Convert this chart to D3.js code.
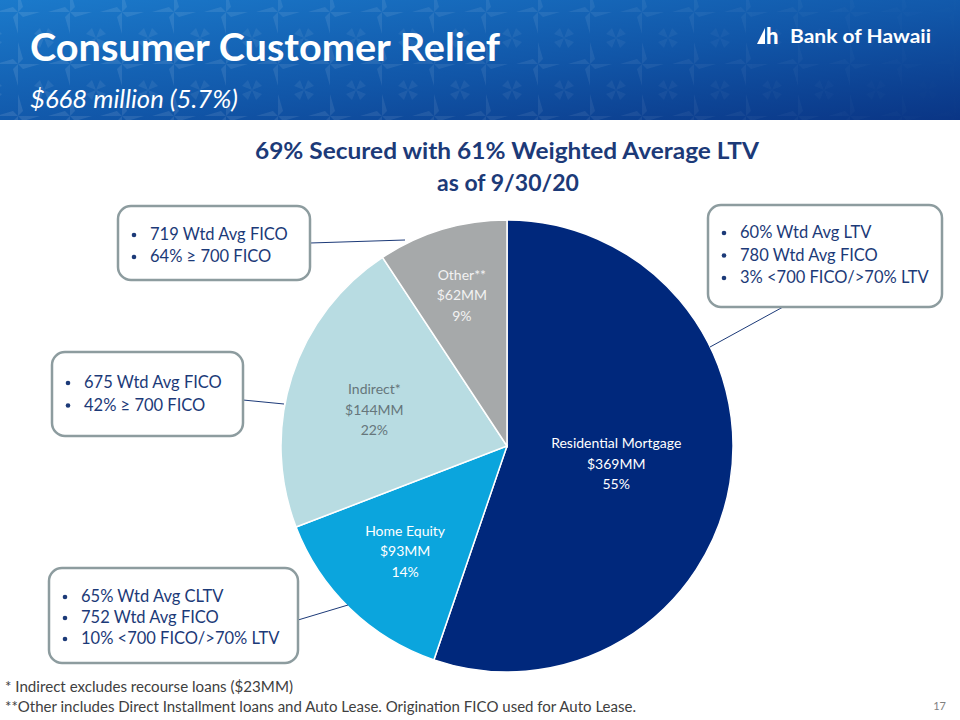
<!DOCTYPE html>
<html><head><meta charset="utf-8">
<script src="https://cdn.jsdelivr.net/npm/d3@7"></script>
<style>
html,body{margin:0;padding:0;background:#fff;}
svg{display:block;}
text{font-family:Lato,"Open Sans",sans-serif;}
</style></head>
<body>
<script>
// ---- data ----
const categories = ["Residential Mortgage","Home Equity","Indirect*","Other**"];
const amounts = [369, 93, 144, 62];           // $MM
const amountLabels = ["$369MM","$93MM","$144MM","$62MM"];
const pctLabels = ["55%","14%","22%","9%"];
const sliceColors = ["#00287c","#0ba5dd","#b8dce2","#a6a9aa"];
const labelColors = ["#ffffff","#ffffff","#66767b","#f2f2f2"];

const pageTitle = "Consumer Customer Relief";
const pageSubtitle = "$668 million (5.7%)";
const chartTitle = ["69% Secured with 61% Weighted Average LTV","as of 9/30/20"];

const calloutOther = ["719 Wtd Avg FICO","64% \u2265 700 FICO"];
const calloutResidential = ["60% Wtd Avg LTV","780 Wtd Avg FICO","3% <700 FICO/>70% LTV"];
const calloutIndirect = ["675 Wtd Avg FICO","42% \u2265 700 FICO"];
const calloutHomeEquity = ["65% Wtd Avg CLTV","752 Wtd Avg FICO","10% <700 FICO/>70% LTV"];

const footnotes = ["* Indirect excludes recourse loans ($23MM)",
  "**Other includes Direct Installment loans and Auto Lease.  Origination FICO used for Auto Lease."];
const pageNumber = "17";

// ---- drawing ----
const W = 960, H = 720;
const svg = d3.select("body").append("svg").attr("width", W).attr("height", H);
const defs = svg.append("defs");

// header gradient
const grad = defs.append("linearGradient").attr("id","hdr").attr("x1","0").attr("y1","0").attr("x2","1").attr("y2","1");
grad.append("stop").attr("offset","0").attr("stop-color","#1b7acb");
grad.append("stop").attr("offset","0.55").attr("stop-color","#1156a8");
grad.append("stop").attr("offset","1").attr("stop-color","#0a3585");

// star pattern
const pat = defs.append("pattern").attr("id","stars").attr("patternUnits","userSpaceOnUse")
  .attr("width",52).attr("height",52).attr("x",-8).attr("y",-14);
const starPath = "M26,26 L26,4 L31,21 Z M26,26 L48,26 L31,31 Z M26,26 L26,48 L21,31 Z M26,26 L4,26 L21,21 Z";
pat.append("path").attr("d", starPath).attr("fill","#ffffff").attr("opacity",0.1);
pat.append("path").attr("d", "M0,0 L10,4 L4,10 Z M52,0 L42,4 L48,10 Z M0,52 L10,48 L4,42 Z M52,52 L42,48 L48,42 Z")
  .attr("fill","#ffffff").attr("opacity",0.08);

svg.append("rect").attr("x",0).attr("y",0).attr("width",W).attr("height",120).attr("fill","url(#hdr)");
const fade = defs.append("linearGradient").attr("id","fade").attr("x1","0").attr("x2","1");
fade.append("stop").attr("offset","0").attr("stop-color","#fff").attr("stop-opacity",1);
fade.append("stop").attr("offset","0.6").attr("stop-color","#fff").attr("stop-opacity",0.7);
fade.append("stop").attr("offset","1").attr("stop-color","#fff").attr("stop-opacity",0.05);
const mask = defs.append("mask").attr("id","fmask");
mask.append("rect").attr("x",0).attr("y",0).attr("width",W).attr("height",120).attr("fill","url(#fade)");
svg.append("rect").attr("x",0).attr("y",0).attr("width",W).attr("height",120).attr("fill","url(#stars)").attr("mask","url(#fmask)");

svg.append("text").attr("x",30).attr("y",61).attr("fill","#fff")
  .attr("font-size",39).attr("font-weight",700).attr("textLength",470).attr("lengthAdjust","spacingAndGlyphs")
  .text(pageTitle);
svg.append("text").attr("x",30).attr("y",108).attr("fill","#fff")
  .attr("font-size",25).attr("font-style","italic").attr("textLength",208).attr("lengthAdjust","spacingAndGlyphs")
  .text(pageSubtitle);

// logo
const logo = svg.append("g");
logo.append("path").attr("d","M757,44 L765,28 L765,44 Z").attr("fill","#fff");
logo.append("text").attr("x",766).attr("y",44).attr("fill","#fff").attr("font-size",22).attr("font-weight",900).text("h");
logo.append("text").attr("x",790).attr("y",43).attr("fill","#fff").attr("font-size",19).attr("font-weight",700)
  .attr("textLength",141).attr("lengthAdjust","spacingAndGlyphs").text("Bank of Hawaii");

// chart title
const ct = svg.append("g");
ct.append("text").attr("x",507).attr("y",159).attr("text-anchor","middle")
  .attr("fill","#1c3a78").attr("font-size",23).attr("font-weight",700)
  .attr("textLength",504).attr("lengthAdjust","spacingAndGlyphs").text(chartTitle[0]);
ct.append("text").attr("x",508).attr("y",191).attr("text-anchor","middle")
  .attr("fill","#1c3a78").attr("font-size",23).attr("font-weight",700).text(chartTitle[1]);

// pie
const cx = 507, cy = 446, R = 226;
const pie = d3.pie().sort(null).value(d=>d)(amounts);
const arc = d3.arc().innerRadius(0).outerRadius(R);
const g = svg.append("g").attr("transform",`translate(${cx},${cy})`);
g.selectAll("path").data(pie).join("path")
  .attr("d",arc).attr("fill",(d,i)=>sliceColors[i]).attr("stroke","#fff").attr("stroke-width",1.5);

// slice labels
const labelArcs = [
  d3.arc().innerRadius(0).outerRadius(R*0.98),
  d3.arc().innerRadius(0).outerRadius(R*1.30),
  d3.arc().innerRadius(0).outerRadius(R*1.27),
  d3.arc().innerRadius(0).outerRadius(R*1.39)
];
const labelNudge = [[0,0],[0,0],[4,8],[0,0]];
pie.forEach((d,i)=>{
  const c = labelArcs[i].centroid(d);
  const x = c[0] + labelNudge[i][0], y = c[1] + labelNudge[i][1];
  const t = g.append("text").attr("text-anchor","middle").attr("fill",labelColors[i]).attr("font-size",14);
  [categories[i], amountLabels[i], pctLabels[i]].forEach((s,k)=>{
    t.append("tspan").attr("x",x).attr("y",y-16+k*20.5).text(s);
  });
});

// callouts
function callout(x,y,w,h,lines,lineY,gap,line){
  svg.append("line").attr("x1",line[0]).attr("y1",line[1]).attr("x2",line[2]).attr("y2",line[3])
    .attr("stroke","#1c3a78").attr("stroke-width",1);
  svg.append("rect").attr("x",x).attr("y",y).attr("width",w).attr("height",h).attr("rx",13)
    .attr("fill","#fff").attr("stroke","#8d9c9f").attr("stroke-width",2.5);
  lines.forEach((s,i)=>{
    svg.append("circle").attr("cx",x+16).attr("cy",lineY+i*gap-5).attr("r",2.3).attr("fill","#1c3a78");
    svg.append("text").attr("x",x+32).attr("y",lineY+i*gap).attr("fill","#1c3a78").attr("font-size",16.5).text(s);
  });
}
callout(118,206,192,74,calloutOther,240,22,[310,243,405,240]);
callout(708,205,234,102,calloutResidential,238,22.5,[783,307,710,347]);
callout(52,352,191,84,calloutIndirect,388,22.5,[243,400,284,404]);
callout(49,568,249,95,calloutHomeEquity,602,21,[298,620,348,605]);

// footnotes
const fnLen = [288, 631];
svg.append("g").selectAll("text").data(footnotes).join("text")
  .attr("x",5).attr("y",(d,i)=>692+i*20).attr("fill","#404040").attr("font-size",14.5)
  .attr("textLength",(d,i)=>fnLen[i]).attr("lengthAdjust","spacingAndGlyphs").text(d=>d);
svg.append("text").attr("x",946).attr("y",710).attr("text-anchor","end").attr("fill","#7f7f7f").attr("font-size",11).text(pageNumber);
</script>
</body></html>
